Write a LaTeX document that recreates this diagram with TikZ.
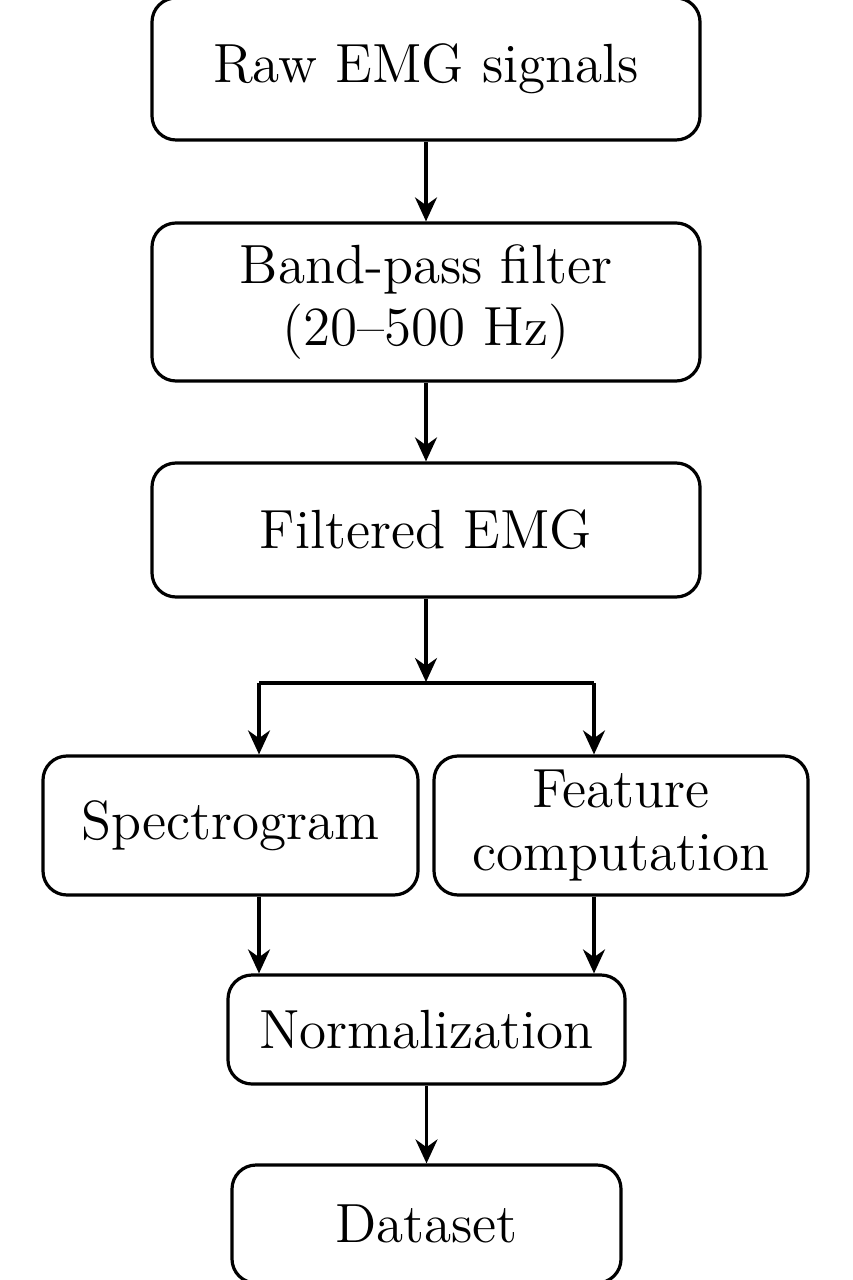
\documentclass[tikz,border=0pt]{standalone}
\usetikzlibrary{arrows.meta}
\begin{document}
\begin{tikzpicture}[x=0.25pt,y=-0.25pt,
  box/.style={draw=black,line width=0.8pt,rounded corners=6pt,rectangle,inner sep=0pt,
    align=center,font=\fontsize{13.8pt}{15.6pt}\selectfont},
  arr/.style={line width=0.8pt,-{Stealth[length=6pt,width=5.5pt]}},
  ln/.style={line width=0.8pt}]
\useasboundingbox (0,0) rectangle (853,1280);
\fill[white] (0,0) rectangle (853,1280);
\node[box,minimum width=137pt,minimum height=35.5pt] (raw) at (426,69) {Raw EMG signals};
\node[box,minimum width=137pt,minimum height=39.5pt] (bp) at (426,302) {Band-pass filter\\(20--500 Hz)};
\node[box,minimum width=137pt,minimum height=33.5pt] (filt) at (426,530) {Filtered EMG};
\node[box,minimum width=93.75pt,minimum height=34.75pt] (spec) at (230.5,825.5) {Spectrogram};
\node[box,minimum width=93.5pt,minimum height=34.75pt] (feat) at (621,825.5) {Feature\\computation};
\node[box,minimum width=99.25pt,minimum height=27.25pt] (norm) at (426.5,1029.5) {Normalization};
\node[box,minimum width=97.25pt,minimum height=29.5pt] (data) at (426.5,1224) {Dataset};
\coordinate (m) at (426,682);
\coordinate (bl) at (259,683);
\coordinate (br) at (594,683);
\draw[arr] (raw) -- (bp);
\draw[arr] (bp) -- (filt);
\draw[arr] (filt) -- (m);
\draw[ln] (bl) -- (br);
\draw[arr] (bl) -- (bl |- spec.north);
\draw[arr] (br) -- (br |- feat.north);
\draw[arr] (spec.south -| bl) -- (bl |- norm.north);
\draw[arr] (feat.south -| br) -- (br |- norm.north);
\draw[arr] (norm) -- (data);
\end{tikzpicture}
\end{document}
